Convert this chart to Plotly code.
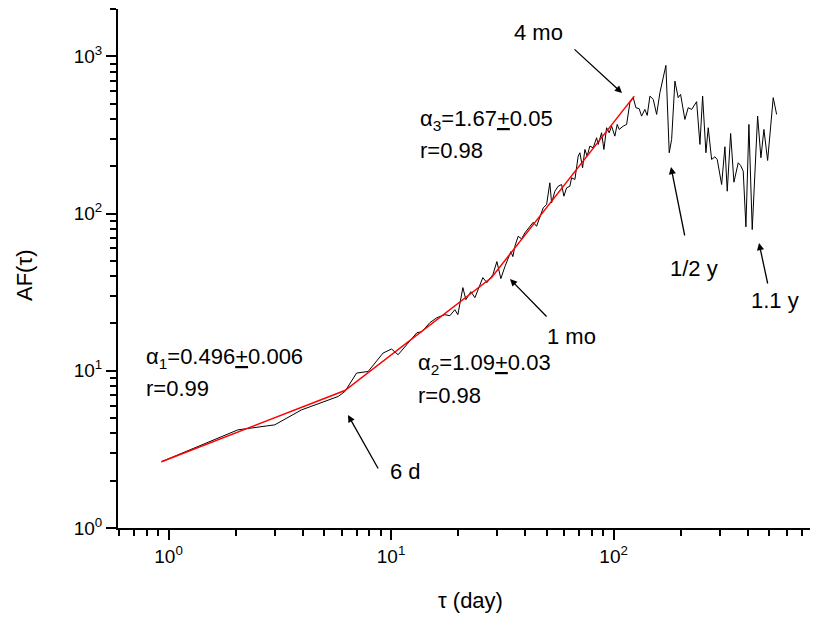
import plotly.graph_objects as go

# --- data ---
tau = [0.93, 2.05, 3.0, 3.96, 5.78, 6.2, 7.0, 7.89, 9.21, 10.05, 10.76, 11.9, 13.06, 13.75,
       14.94, 16.06, 17.45, 18.38, 19.35, 19.96, 21.02, 21.69, 22.84, 23.81, 25.85, 26.95,
       28.68, 29.89, 31.15, 32.47, 34.55, 35.27, 36.0, 37.25, 38.59, 39.93, 42.06, 43.52,
       45.07, 46.65, 48.27, 50.0, 51.7, 52.64, 54.48, 56.36, 58.39, 59.79, 61.5, 63.62,
       64.74, 66.99, 69.33, 70.55, 72.55, 74.3, 76.1, 78.2, 80.97, 83.87, 85.27, 88.33,
       90.45, 93.0, 95.54, 97.95, 101.3, 103.8, 105.96, 110.4, 114.4, 118.4, 122.5, 126.0,
       130.3, 133.6, 138.2, 141.6, 145.6, 150.7, 156.1, 161.5, 171.8, 177.8, 182.3, 188.6,
       195.1, 200.0, 209.1, 216.4, 224.2, 236.1, 244.3, 251.2, 259.9, 266.2, 275.7, 285.3,
       292.2, 305.8, 316.4, 324.1, 335.7, 347.3, 363.1, 372.3, 382.4, 393.2, 405.6, 419.7,
       443.8, 459.2, 473.7, 492.2, 521.6, 540.2]
af = [2.64, 4.21, 4.53, 5.64, 6.86, 7.38, 9.67, 9.90, 12.97, 13.75, 12.65, 15.08, 17.46, 17.72,
      20.22, 21.76, 22.74, 22.40, 24.46, 22.74, 33.8, 28.33, 31.86, 29.17, 39.13, 36.35,
      40.88, 49.47, 38.55, 45.96, 57.28, 53.22, 61.9, 71.7, 69.0, 75.4, 83.0, 88.0,
      83.0, 96.1, 108.7, 114.1, 156.9, 117.0, 138.7, 149.2, 153.0, 128.9, 145.8, 149.2,
      168.8, 164.7, 231.7, 243.6, 195.5, 255.6, 231.7, 268.4, 262.1, 303.5, 275.2, 326.6,
      255.6, 351.5, 326.6, 359.8, 310.7, 368.9, 342.8, 359.8, 368.9, 507.2, 545.8, 471.2,
      464.4, 416.6, 459.5, 420.9, 558.7, 532.3, 427.2, 587.3, 876.0, 243.6, 296.0, 696.0,
      545.8, 572.8, 396.9, 471.2, 459.5, 514.7, 275.2, 558.7, 243.6, 351.5, 220.8, 229.7,
      220.8, 153.0, 266.0, 138.7, 323.3, 158.3, 210.3, 202.2, 186.0, 82.3, 368.9, 79.1,
      416.6, 226.4, 342.8, 217.6, 545.8, 427.2]

# piecewise power-law fit (breakpoints)
fit_tau = [0.93, 6.2, 28.3, 123.8]
fit_af = [2.64, 7.49, 39.2, 558.6]

x_major = [1, 10, 100]
x_major_text = ["10<sup>0</sup>", "10<sup>1</sup>", "10<sup>2</sup>"]
x_minor = [0.6, 0.7, 0.8, 0.9, 2, 3, 4, 5, 6, 7, 8, 9, 20, 30, 40, 50, 60, 70, 80, 90,
           200, 300, 400, 500, 600, 700, 800]
y_major = [1, 10, 100, 1000]
y_major_text = ["10<sup>0</sup>", "10<sup>1</sup>", "10<sup>2</sup>", "10<sup>3</sup>"]
y_minor = [2, 3, 4, 5, 6, 7, 8, 9, 20, 30, 40, 50, 60, 70, 80, 90,
           200, 300, 400, 500, 600, 700, 800, 900, 2000]

FONT = "Arial, 'Liberation Sans', sans-serif"

fig = go.Figure()
fig.add_trace(go.Scatter(x=tau, y=af, mode="lines",
                         line=dict(color="black", width=1), showlegend=False))
fig.add_trace(go.Scatter(x=fit_tau, y=fit_af, mode="lines",
                         line=dict(color="#ff0000", width=1.5), showlegend=False))

# page body has an 8px margin; figure is offset by it
OFF = 8
W, H = 810, 609
L, R, T, B = 110, 1, 1, 89
pw, ph = W - L - R, H - T - B


def px(x):
    return (x - OFF - L) / pw


def py(y):
    return (H - B - (y - OFF)) / ph


annotations = []


def txt(s, x, y, xanchor="center"):
    annotations.append(dict(text=s, x=px(x), y=py(y), xref="paper", yref="paper",
                            xanchor=xanchor, yanchor="middle", showarrow=False,
                            font=dict(family=FONT, size=22, color="black")))


def arrow(hx, hy, tx, ty):
    annotations.append(dict(text="", x=px(hx), y=py(hy), xref="paper", yref="paper",
                            ax=tx - hx, ay=ty - hy, showarrow=True, arrowhead=2,
                            arrowsize=1.1, arrowwidth=1.3, arrowcolor="black",
                            standoff=0, startstandoff=0))


txt("4 mo", 538, 33)
arrow(622, 93, 573, 48)
txt("1 mo", 571, 336)
arrow(510, 279, 548, 318)
txt("1/2 y", 694, 268)
arrow(671, 167, 685, 237)
txt("1.1 y", 775, 300)
arrow(759, 243, 768, 285)
txt("6 d", 405, 471)
arrow(348, 415, 379, 470)

txt("α<sub>1</sub>=0.496<u>+</u>0.006", 144, 358, "left")
txt("r=0.99", 144, 388, "left")
txt("α<sub>2</sub>=1.09<u>+</u>0.03", 416, 364, "left")
txt("r=0.98", 416, 395, "left")
txt("α<sub>3</sub>=1.67<u>+</u>0.05", 418, 120, "left")
txt("r=0.98", 418, 150, "left")

# axis titles
annotations.append(dict(text="τ (day)", x=px(470), y=py(600), xref="paper", yref="paper",
                        xanchor="center", yanchor="middle", showarrow=False,
                        font=dict(family=FONT, size=22, color="black")))
annotations.append(dict(text="AF(τ)", x=px(24), y=py(276), xref="paper", yref="paper",
                        xanchor="center", yanchor="middle", showarrow=False, textangle=-90,
                        font=dict(family=FONT, size=22, color="black")))

axis_common = dict(showline=True, linecolor="black", linewidth=2, showgrid=False,
                   zeroline=False, ticks="outside", ticklen=10, tickwidth=2,
                   tickcolor="black", tickmode="array",
                   tickfont=dict(family=FONT, size=19, color="black"))

fig.update_layout(
    width=W, height=H,
    margin=dict(l=L, r=R, t=T, b=B),
    paper_bgcolor="white", plot_bgcolor="white",
    showlegend=False,
    annotations=annotations,
    xaxis=dict(type="log", range=[-0.227, 2.914], tickvals=x_major, ticktext=x_major_text,
               minor=dict(tickmode="array", tickvals=x_minor, ticks="outside", ticklen=6,
                          tickwidth=1.5, tickcolor="black", showgrid=False),
               **axis_common),
    yaxis=dict(type="log", range=[0, 3.30103], tickvals=y_major, ticktext=y_major_text,
               minor=dict(tickmode="array", tickvals=y_minor, ticks="outside", ticklen=6,
                          tickwidth=1.5, tickcolor="black", showgrid=False),
               **axis_common),
)

fig.write_html("out.html")
